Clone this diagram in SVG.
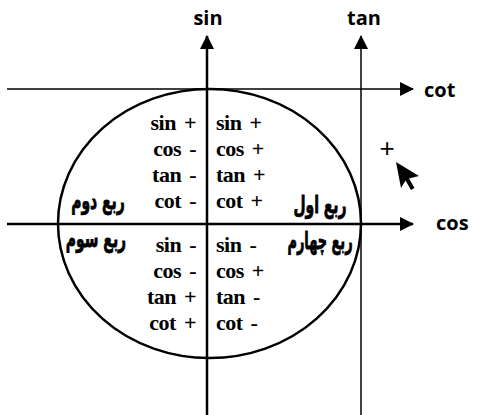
<svg xmlns="http://www.w3.org/2000/svg" width="477" height="415" viewBox="0 0 477 415">
<style>
.ax{stroke:#000;fill:none}
.lbl{font-family:"Open Sans","Liberation Sans",sans-serif;font-weight:bold;font-size:20px;fill:#000}
.q{font-family:"Liberation Serif","Times New Roman",serif;font-weight:bold;font-size:22px;fill:#000;letter-spacing:-0.5px;word-spacing:3px}
.fa{font-family:"DejaVu Sans","Noto Sans",sans-serif;font-weight:bold;font-size:17px;fill:#000;stroke:#000;stroke-width:0.6px}
</style>
<defs>
<marker id="ah" viewBox="0 0 14 14" refX="13" refY="7" markerWidth="14" markerHeight="14" markerUnits="userSpaceOnUse" orient="auto">
<path d="M0,0 L14,7 L0,14 Z" fill="#000"/>
</marker>
</defs>
<g id="connectors">
<line class="ax" x1="207" y1="415" x2="207" y2="36" stroke-width="2.5" marker-end="url(#ah)"/>
<line class="ax" x1="361" y1="415" x2="361" y2="36" stroke-width="1.5" marker-end="url(#ah)"/>
<line class="ax" x1="7" y1="89" x2="413" y2="89" stroke-width="1.5" marker-end="url(#ah)"/>
<line class="ax" x1="7" y1="224" x2="413" y2="224" stroke-width="2.5" marker-end="url(#ah)"/>
</g>
<g id="circle">
<ellipse class="ax" cx="209.5" cy="223.5" rx="151.5" ry="134.5" stroke-width="2.5"/>
</g>
<g id="axis-labels">
<text class="lbl" x="208" y="25" text-anchor="middle">sin</text>
<text class="lbl" x="364" y="25" text-anchor="middle">tan</text>
<text class="lbl" x="424" y="97">cot</text>
<text class="lbl" x="436" y="230">cos</text>
</g>
<g id="q2">
<text class="q" x="196" y="130" text-anchor="end">sin +</text>
<text class="q" x="196" y="156" text-anchor="end">cos -</text>
<text class="q" x="196" y="182" text-anchor="end">tan -</text>
<text class="q" x="196" y="208" text-anchor="end">cot -</text>
<text class="fa" text-anchor="middle" transform="translate(98,209) scale(0.82,1.4)">ربع دوم</text>
</g>
<g id="q1">
<text class="q" x="216" y="130">sin +</text>
<text class="q" x="216" y="156">cos +</text>
<text class="q" x="216" y="182">tan +</text>
<text class="q" x="216" y="208">cot +</text>
<text class="fa" text-anchor="middle" transform="translate(320,213) scale(0.82,1.4)">ربع اول</text>
</g>
<g id="q3">
<text class="q" x="196" y="252" text-anchor="end">sin -</text>
<text class="q" x="196" y="278" text-anchor="end">cos -</text>
<text class="q" x="196" y="304" text-anchor="end">tan +</text>
<text class="q" x="196" y="330" text-anchor="end">cot +</text>
<text class="fa" text-anchor="middle" transform="translate(96,247) scale(0.82,1.4)">ربع سوم</text>
</g>
<g id="q4">
<text class="q" x="216" y="252">sin -</text>
<text class="q" x="216" y="278">cos +</text>
<text class="q" x="216" y="304">tan -</text>
<text class="q" x="216" y="330">cot -</text>
<text class="fa" text-anchor="middle" transform="translate(320,249) scale(0.76,1.4)">ربع چهارم</text>
</g>
<g id="cursor">
<text x="387" y="157" text-anchor="middle" style="font-family:'Liberation Sans',sans-serif;font-size:26px;fill:#000">+</text>
<path d="M396,162 L401,188 L405.5,180.5 L411,190 L414.5,188 L409,178.5 L419,176 Z" fill="#000"/>
</g>
</svg>
